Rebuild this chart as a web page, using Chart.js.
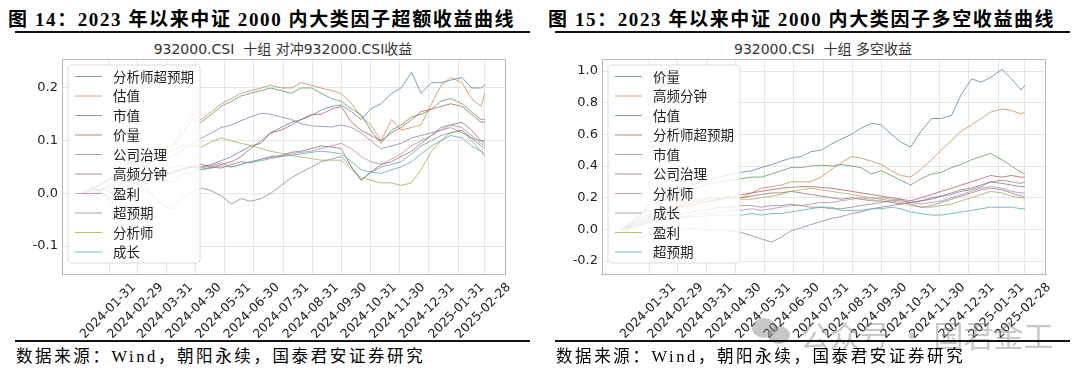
<!DOCTYPE html>
<html>
<head>
<meta charset="utf-8">
<script src="https://cdn.jsdelivr.net/npm/chart.js@4.4.1/dist/chart.umd.min.js"></script>
<style>
  body { margin: 0; background: #fff; width: 1080px; height: 375px; position: relative; overflow: hidden; }
  .ttl { position: absolute; top: 4px; font: bold 19px "Liberation Serif", "Noto Sans CJK SC", serif; letter-spacing: 1.6px; white-space: nowrap; color: #000; }
  .rule { position: absolute; height: 2px; background: #111; }
  .sub { position: absolute; top: 38px; font: 14px "DejaVu Sans", "Noto Sans CJK SC", sans-serif; color: #333; transform: translateX(-50%); white-space: nowrap; }
  .src { position: absolute; top: 343px; font: 16.5px "Liberation Serif", "Noto Sans CJK SC", serif; letter-spacing: 2.6px; color: #000; white-space: nowrap; }
  canvas { position: absolute; top: 34px; }
  .wm { position: absolute; top: 312px; left: 800px; font: 30px "Noto Sans CJK SC", sans-serif; color: rgba(130,130,130,0.45); white-space: nowrap; }
  .bub { position: absolute; border-radius: 50%; background: rgba(130,130,130,0.45); }
</style>
</head>
<body>
<div class="ttl" style="left:8px">图 14：2023 年以来中证 2000 内大类因子超额收益曲线</div>
<div class="ttl" style="left:548px">图 15：2023 年以来中证 2000 内大类因子多空收益曲线</div>
<div class="rule" style="left:15px;width:515px;top:31px"></div>
<div class="rule" style="left:555px;width:515px;top:31px"></div>
<div class="sub" style="left:283px">932000.CSI&nbsp;&nbsp;十组 对冲932000.CSI收益</div>
<div class="sub" style="left:823px">932000.CSI&nbsp;&nbsp;十组 多空收益</div>
<canvas id="left" width="540" height="308" style="left:0"></canvas>
<canvas id="right" width="540" height="308" style="left:540px"></canvas>
<div class="bub" style="left:752px;top:318px;width:24px;height:20px"></div>
<div class="bub" style="left:768px;top:326px;width:22px;height:18px"></div>
<div class="wm">公众号 · 国君金工</div>
<div class="rule" style="left:15px;width:515px;top:340px"></div>
<div class="rule" style="left:555px;width:515px;top:340px"></div>
<div class="src" style="left:16px">数据来源：Wind，朝阳永续，国泰君安证券研究</div>
<div class="src" style="left:556px">数据来源：Wind，朝阳永续，国泰君安证券研究</div>

<script>
// sample dates (roughly every 10 days)
const dates = ['2024-01-02','2024-01-12','2024-01-23','2024-02-02','2024-02-13','2024-02-23','2024-03-05',
  '2024-03-15','2024-03-25','2024-04-05','2024-04-15','2024-04-26','2024-05-06','2024-05-17','2024-05-27',
  '2024-06-07','2024-06-17','2024-06-27','2024-07-08','2024-07-18','2024-07-29','2024-08-09','2024-08-19',
  '2024-08-30','2024-09-09','2024-09-20','2024-09-30','2024-10-11','2024-10-21','2024-10-31','2024-11-11',
  '2024-11-22','2024-12-02','2024-12-13','2024-12-23','2025-01-03','2025-01-13','2025-01-23','2025-02-04',
  '2025-02-14','2025-02-24','2025-02-28'];

const tickDates = ['2024-01-31','2024-02-29','2024-03-31','2024-04-30','2024-05-31','2024-06-30','2024-07-31',
  '2024-08-31','2024-09-30','2024-10-31','2024-11-30','2024-12-31','2025-01-31','2025-02-28'];

// 超额收益 (left)
const exLabels = ['分析师超预期','估值','市值','价量','公司治理','高频分钟','盈利','超预期','分析师','成长'];
const exAnaSurprise = [0.000,-0.005,0.010,0.000,0.020,0.030,0.025,0.030,0.040,0.035,0.045,0.050,0.050,0.055,0.062,0.070,0.080,0.090,0.095,0.115,0.125,0.135,0.140,0.148,0.158,0.165,0.168,0.155,0.140,0.160,0.170,0.190,0.200,0.230,0.190,0.210,0.210,0.215,0.220,0.200,0.200,0.206];
const exValue = [0.000,0.010,0.015,0.030,0.050,0.060,0.070,0.080,0.085,0.090,0.120,0.150,0.140,0.155,0.170,0.180,0.190,0.195,0.200,0.205,0.200,0.200,0.210,0.205,0.200,0.195,0.190,0.170,0.145,0.130,0.100,0.140,0.120,0.125,0.130,0.170,0.205,0.220,0.210,0.180,0.165,0.190];
const exSize = [0.000,0.005,0.020,0.025,0.045,0.050,0.065,0.070,0.080,0.085,0.110,0.140,0.135,0.150,0.165,0.175,0.185,0.190,0.195,0.200,0.195,0.190,0.200,0.200,0.190,0.180,0.175,0.160,0.150,0.120,0.095,0.120,0.130,0.145,0.150,0.160,0.175,0.180,0.170,0.155,0.140,0.140];
const exPriceVol = [0.000,0.000,0.010,0.010,0.020,0.025,0.030,0.035,0.040,0.040,0.045,0.050,0.055,0.050,0.055,0.060,0.070,0.085,0.100,0.115,0.120,0.130,0.140,0.150,0.150,0.160,0.165,0.135,0.120,0.110,0.100,0.115,0.125,0.140,0.155,0.160,0.165,0.170,0.165,0.150,0.135,0.135];
const exGovern = [0.000,0.010,0.020,0.030,0.035,0.045,0.050,0.060,0.065,0.070,0.080,0.095,0.105,0.115,0.125,0.130,0.138,0.145,0.152,0.150,0.145,0.140,0.132,0.128,0.127,0.126,0.130,0.125,0.115,0.100,0.085,0.090,0.095,0.105,0.110,0.115,0.120,0.125,0.115,0.105,0.100,0.100];
const exHighFreq = [0.000,0.010,0.005,0.020,0.030,0.025,0.035,0.040,0.030,0.040,0.045,0.050,0.045,0.050,0.048,0.055,0.060,0.058,0.065,0.070,0.072,0.078,0.080,0.085,0.090,0.088,0.085,0.050,0.025,0.040,0.055,0.060,0.070,0.080,0.095,0.110,0.125,0.130,0.135,0.120,0.100,0.095];
const exProfit = [0.000,0.005,0.010,0.015,0.025,0.030,0.035,0.040,0.045,0.050,0.052,0.050,0.048,0.053,0.058,0.050,0.055,0.060,0.065,0.068,0.070,0.075,0.078,0.080,0.085,0.090,0.095,0.085,0.070,0.060,0.055,0.065,0.075,0.090,0.100,0.110,0.120,0.130,0.125,0.110,0.095,0.090];
const exSurprise = [0.000,0.010,0.000,-0.010,0.000,-0.005,0.010,0.000,-0.020,-0.030,-0.010,0.005,0.010,0.005,-0.005,-0.020,-0.010,-0.015,-0.010,0.000,0.015,0.030,0.040,0.050,0.060,0.065,0.070,0.050,0.025,0.040,0.050,0.055,0.060,0.075,0.090,0.100,0.110,0.115,0.120,0.105,0.090,0.085];
const exAnalyst = [0.000,0.010,0.020,0.030,0.050,0.060,0.065,0.070,0.075,0.080,0.090,0.090,0.088,0.098,0.105,0.100,0.095,0.091,0.085,0.080,0.076,0.072,0.069,0.066,0.063,0.063,0.063,0.045,0.030,0.025,0.020,0.020,0.015,0.020,0.045,0.080,0.100,0.115,0.120,0.100,0.080,0.070];
const exGrowth = [0.000,-0.010,0.005,-0.020,0.010,0.020,0.015,0.025,0.030,0.020,0.035,0.040,0.045,0.048,0.052,0.050,0.055,0.060,0.062,0.066,0.070,0.072,0.075,0.078,0.080,0.078,0.075,0.060,0.045,0.040,0.038,0.045,0.050,0.060,0.075,0.090,0.100,0.110,0.105,0.090,0.080,0.075];

// 多空收益 (right)
const lsLabels = ['价量','高频分钟','估值','分析师超预期','市值','公司治理','分析师','成长','盈利','超预期'];
const lsPriceVol = [0.00,0.04,0.10,0.18,0.21,0.23,0.26,0.28,0.30,0.32,0.33,0.35,0.36,0.37,0.39,0.41,0.43,0.45,0.46,0.49,0.50,0.54,0.57,0.60,0.64,0.67,0.66,0.60,0.55,0.52,0.62,0.70,0.70,0.72,0.85,0.95,0.93,0.96,1.01,0.95,0.88,0.91];
const lsHighFreq = [0.00,0.03,0.08,0.12,0.14,0.15,0.17,0.18,0.19,0.20,0.19,0.20,0.20,0.23,0.26,0.27,0.28,0.30,0.30,0.30,0.33,0.38,0.42,0.46,0.45,0.43,0.41,0.37,0.34,0.33,0.38,0.44,0.50,0.56,0.62,0.66,0.70,0.74,0.76,0.75,0.73,0.74];
const lsValue = [0.00,0.05,0.10,0.15,0.18,0.20,0.22,0.25,0.27,0.29,0.30,0.31,0.32,0.33,0.33,0.35,0.37,0.39,0.39,0.40,0.405,0.40,0.41,0.40,0.39,0.35,0.37,0.34,0.31,0.28,0.32,0.35,0.36,0.39,0.41,0.44,0.46,0.48,0.44,0.40,0.36,0.35];
const lsAnaSurprise = [0.00,0.02,0.05,0.08,0.10,0.12,0.14,0.15,0.17,0.18,0.20,0.21,0.22,0.23,0.24,0.25,0.26,0.265,0.27,0.27,0.265,0.26,0.25,0.24,0.23,0.22,0.21,0.20,0.19,0.18,0.20,0.22,0.24,0.26,0.28,0.30,0.32,0.34,0.33,0.34,0.33,0.33];
const lsSize = [0.00,-0.02,-0.05,-0.03,0.00,0.01,0.00,0.01,0.00,-0.01,0.00,-0.01,-0.02,-0.04,-0.06,-0.08,-0.05,-0.01,0.01,0.03,0.05,0.07,0.08,0.10,0.11,0.13,0.14,0.15,0.16,0.17,0.18,0.20,0.21,0.22,0.24,0.25,0.27,0.30,0.31,0.30,0.29,0.30];
const lsGovern = [0.00,0.03,0.07,0.10,0.12,0.14,0.15,0.16,0.17,0.18,0.19,0.20,0.20,0.21,0.22,0.23,0.23,0.24,0.23,0.22,0.21,0.20,0.19,0.20,0.19,0.18,0.18,0.17,0.16,0.17,0.18,0.19,0.21,0.23,0.25,0.26,0.28,0.30,0.29,0.28,0.27,0.27];
const lsAnalyst = [0.00,0.01,0.03,0.05,0.06,0.07,0.08,0.09,0.10,0.10,0.11,0.12,0.12,0.13,0.12,0.13,0.14,0.15,0.15,0.16,0.17,0.17,0.18,0.19,0.20,0.19,0.20,0.19,0.18,0.17,0.16,0.17,0.18,0.20,0.22,0.24,0.26,0.27,0.26,0.24,0.23,0.23];
const lsGrowth = [0.00,0.02,0.04,0.06,0.08,0.09,0.10,0.11,0.12,0.13,0.14,0.14,0.15,0.15,0.14,0.15,0.15,0.16,0.15,0.14,0.14,0.13,0.13,0.14,0.15,0.16,0.17,0.18,0.19,0.16,0.14,0.15,0.17,0.19,0.21,0.23,0.25,0.26,0.25,0.23,0.21,0.21];
const lsProfit = [0.00,0.02,0.05,0.09,0.12,0.14,0.16,0.17,0.18,0.20,0.20,0.20,0.19,0.19,0.20,0.21,0.22,0.24,0.25,0.26,0.25,0.24,0.23,0.22,0.21,0.20,0.19,0.18,0.17,0.15,0.14,0.14,0.15,0.16,0.18,0.20,0.22,0.24,0.23,0.21,0.20,0.20];
const lsSurprise = [0.00,0.01,0.03,0.05,0.06,0.07,0.07,0.08,0.08,0.09,0.09,0.09,0.09,0.10,0.09,0.10,0.10,0.11,0.12,0.13,0.14,0.14,0.12,0.12,0.12,0.13,0.13,0.14,0.13,0.11,0.10,0.09,0.09,0.10,0.11,0.12,0.13,0.14,0.14,0.14,0.13,0.13];

const leftTicks = [-0.1, 0.0, 0.1, 0.2];
const rightTicks = [-0.2, 0.0, 0.2, 0.4, 0.6, 0.8, 1.0];

const palette = ['#1f77b4','#ff7f0e','#2ca02c','#d62728','#9467bd','#8c564b','#e377c2','#7f7f7f','#bcbd22','#17becf'];

const toMs = d => Date.parse(d + 'T00:00:00Z');
const xs = dates.map(toMs);
const span = xs[xs.length - 1] - xs[0];

// the source picture is washed out: pull colours toward grey and make them lighter
function muted(hex) {
  const n = parseInt(hex.slice(1), 16);
  const mix = c => Math.round(c * 0.55 + 140 * 0.45);
  return `rgba(${mix(n >> 16)},${mix((n >> 8) & 255)},${mix(n & 255)},0.75)`;
}

// legend drawn inside the plot, above the lines, semi-transparent like matplotlib
const legendInside = {
  id: 'legendInside',
  afterDatasetsDraw(chart) {
    const { ctx, chartArea } = chart;
    const x = chartArea.left + 6, y = chartArea.top + 6, w = 132, h = 198;
    ctx.save();
    ctx.beginPath();
    ctx.roundRect(x, y, w, h, 3);
    ctx.fillStyle = 'rgba(255,255,255,0.82)';
    ctx.fill();
    ctx.strokeStyle = '#dcdcdc';
    ctx.lineWidth = 1;
    ctx.stroke();
    ctx.font = '13.5px "Noto Sans CJK SC", sans-serif';
    ctx.textBaseline = 'middle';
    chart.data.datasets.forEach((ds, i) => {
      const yy = y + 11.5 + i * 19.5;
      ctx.strokeStyle = ds.borderColor;
      ctx.beginPath();
      ctx.moveTo(x + 7, yy);
      ctx.lineTo(x + 34, yy);
      ctx.stroke();
      ctx.fillStyle = '#222';
      ctx.fillText(ds.label, x + 45, yy);
    });
    ctx.restore();
  }
};

// full box around the plot area
const frame = {
  id: 'frame',
  beforeDatasetsDraw(chart) {
    const { ctx, chartArea: a } = chart;
    ctx.save();
    ctx.strokeStyle = '#b8b8b8';
    ctx.lineWidth = 1;
    ctx.strokeRect(a.left + 0.5, a.top + 0.5, a.right - a.left, a.bottom - a.top);
    ctx.restore();
  }
};

function makeChart(id, labels, series, yMin, yMax, yTicks) {
  new Chart(document.getElementById(id), {
    type: 'line',
    data: {
      datasets: series.map((vals, i) => ({
        label: labels[i],
        data: vals.map((v, j) => ({ x: xs[j], y: v })),
        borderColor: muted(palette[i]),
        borderWidth: 1,
        pointRadius: 0,
        tension: 0,
        order: series.length - i
      }))
    },
    options: {
      responsive: false,
      animation: false,
      layout: { padding: { top: 25, right: 35, left: 0, bottom: 0 } },
      plugins: { legend: { display: false }, tooltip: { enabled: false } },
      scales: {
        x: {
          type: 'linear',
          min: xs[0] - span * 0.05,
          max: xs[xs.length - 1] + span * 0.05,
          afterBuildTicks: s => { s.ticks = tickDates.map(d => ({ value: toMs(d) })); },
          afterFit: s => { s.height = 68; },
          grid: { color: '#e6e6e6', drawTicks: false },
          border: { display: false },
          ticks: {
            autoSkip: false, maxRotation: 45, minRotation: 45, padding: 6, labelOffset: 24,
            color: '#222', font: { family: 'DejaVu Sans', size: 12.5 },
            callback: v => new Date(v).toISOString().slice(0, 10)
          }
        },
        y: {
          min: yMin, max: yMax,
          afterBuildTicks: s => { s.ticks = yTicks.map(v => ({ value: v })); },
          afterFit: s => { s.width = 62; },
          grid: { color: '#e6e6e6', drawTicks: false },
          border: { display: false },
          ticks: {
            padding: 4, color: '#222', font: { family: 'DejaVu Sans', size: 13 },
            callback: v => v.toFixed(1)
          }
        }
      }
    },
    plugins: [frame, legendInside]
  });
}

makeChart('left', exLabels,
  [exAnaSurprise, exValue, exSize, exPriceVol, exGovern, exHighFreq, exProfit, exSurprise, exAnalyst, exGrowth],
  -0.153, 0.255, leftTicks);
makeChart('right', lsLabels,
  [lsPriceVol, lsHighFreq, lsValue, lsAnaSurprise, lsSize, lsGovern, lsAnalyst, lsGrowth, lsProfit, lsSurprise],
  -0.282, 1.076, rightTicks);
</script>
</body>
</html>
